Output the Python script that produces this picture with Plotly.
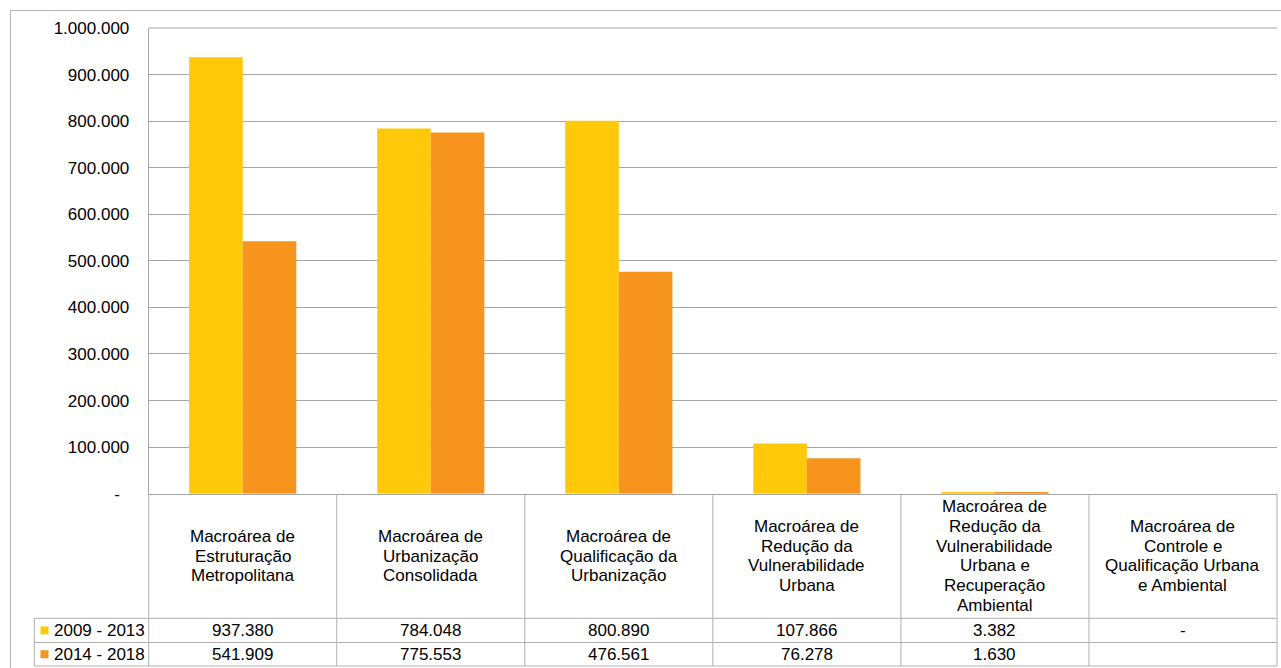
import plotly.graph_objects as go

# ---- data ----
categories = [
    "Macroárea de Estruturação Metropolitana",
    "Macroárea de Urbanização Consolidada",
    "Macroárea de Qualificação da Urbanização",
    "Macroárea de Redução da Vulnerabilidade Urbana",
    "Macroárea de Redução da Vulnerabilidade Urbana e Recuperação Ambiental",
    "Macroárea de Controle e Qualificação Urbana e Ambiental",
]
category_lines = [
    ["Macroárea de", "Estruturação", "Metropolitana"],
    ["Macroárea de", "Urbanização", "Consolidada"],
    ["Macroárea de", "Qualificação da", "Urbanização"],
    ["Macroárea de", "Redução da", "Vulnerabilidade", "Urbana"],
    ["Macroárea de", "Redução da", "Vulnerabilidade", "Urbana e", "Recuperação", "Ambiental"],
    ["Macroárea de", "Controle e", "Qualificação Urbana", "e Ambiental"],
]
series_names = ["2009 - 2013", "2014 - 2018"]
values_2009_2013 = [937380, 784048, 800890, 107866, 3382, 0]
values_2014_2018 = [541909, 775553, 476561, 76278, 1630, None]
y_ticks = [0, 100000, 200000, 300000, 400000, 500000, 600000, 700000, 800000, 900000, 1000000]

colors = ["#FFC90A", "#F7941E"]
FONT = "Liberation Sans, Arial, sans-serif"
W, H = 1281, 668
GRID = "#A6A6A6"
TABLE = "#B0B0B0"


def fmt(v):
    if v is None:
        return ""
    if v == 0:
        return "-"
    return f"{v:,.0f}".replace(",", ".")


def px(x):
    return x / W


def py(y):
    return 1 - y / H


# layout geometry (pixels)
PL, PR, PT, PB = 148.7, 1277, 28, 493.7
ROW1, ROW2, ROW3 = 618.3, 642.5, 666
LEG_L = 34.3

fig = go.Figure()
all_series = [values_2009_2013, values_2014_2018]
for name, vals, c in zip(series_names, all_series, colors):
    fig.add_trace(go.Bar(
        x=categories, y=[v if v is not None else 0 for v in vals], name=name,
        marker=dict(color=c, line=dict(width=0)), showlegend=False,
    ))

shapes = []
ann = []
# outer chart border
shapes.append(dict(type="rect", xref="paper", yref="paper", x0=px(10.5), x1=px(1290), y0=py(10.5), y1=py(700),
                   line=dict(color="#B4B4B4", width=1), fillcolor="rgba(0,0,0,0)", layer="below"))
# plot area top border
shapes.append(dict(type="line", xref="paper", yref="paper", x0=px(PL), x1=px(PR), y0=py(PT), y1=py(PT),
                   line=dict(color=GRID, width=1)))
# table horizontal lines
for yy, x0 in [(ROW1, LEG_L), (ROW2, LEG_L), (ROW3, LEG_L)]:
    shapes.append(dict(type="line", xref="paper", yref="paper", x0=px(x0), x1=px(PR), y0=py(yy), y1=py(yy),
                       line=dict(color=TABLE, width=1)))
# table vertical lines
n = len(categories)
cw = (PR - PL) / n
for i in range(n + 1):
    xx = PL + i * cw
    shapes.append(dict(type="line", xref="paper", yref="paper", x0=px(xx), x1=px(xx), y0=py(PB), y1=py(ROW3),
                       line=dict(color=TABLE, width=1)))
shapes.append(dict(type="line", xref="paper", yref="paper", x0=px(LEG_L), x1=px(LEG_L), y0=py(ROW1), y1=py(ROW3),
                   line=dict(color=TABLE, width=1)))

# header text (category labels)
LINE_H = 19.8
HC = (PB + ROW1) / 2
for cat, lines in zip(categories, category_lines):
    k = len(lines)
    for j, t in enumerate(lines):
        yy = HC + (j - (k - 1) / 2) * LINE_H
        ann.append(dict(x=cat, xref="x", y=py(yy), yref="paper", text=t, showarrow=False,
                        font=dict(family=FONT, size=17, color="#000"), xanchor="center", yanchor="middle"))

# data rows
row_centers = [(ROW1 + ROW2) / 2, (ROW2 + ROW3) / 2]
for name, vals, c, rc in zip(series_names, all_series, colors, row_centers):
    shapes.append(dict(type="rect", xref="paper", yref="paper", x0=px(40.5), x1=px(48.5),
                       y0=py(rc - 4), y1=py(rc + 4), fillcolor=c, line=dict(width=0)))
    ann.append(dict(x=px(51.5), xref="paper", y=py(rc), yref="paper", text=name, showarrow=False,
                    font=dict(family=FONT, size=17, color="#000"), xanchor="left", yanchor="middle"))
    for cat, v in zip(categories, vals):
        ann.append(dict(x=cat, xref="x", y=py(rc), yref="paper", text=fmt(v), showarrow=False,
                        font=dict(family=FONT, size=17, color="#000"), xanchor="center", yanchor="middle"))

tick_text = [fmt(v) + ("&nbsp;&nbsp;" if v == 0 else "") for v in y_ticks]

fig.update_layout(
    width=W, height=H, margin=dict(l=0, r=0, t=0, b=0, pad=0, autoexpand=False),
    paper_bgcolor="white", plot_bgcolor="white",
    barmode="group", bargap=0.43, bargroupgap=0,
    font=dict(family=FONT, size=17, color="#000"),
    xaxis=dict(domain=[px(PL), px(PR)], showticklabels=False, showgrid=False, zeroline=False,
               showline=True, linecolor=GRID, linewidth=1, ticks="", automargin=False),
    yaxis=dict(domain=[py(PB), py(PT)], range=[0, 1000000], tickvals=y_ticks,
               ticktext=tick_text, showgrid=True, gridcolor=GRID, gridwidth=1,
               zeroline=False, showline=True, linecolor=GRID, linewidth=1, ticks="", automargin=False,
               ticklabelstandoff=15, tickfont=dict(family=FONT, size=17, color="#000")),
    shapes=shapes, annotations=ann,
)

fig.write_html("out.html", config={"displayModeBar": False},
               post_script="document.body.style.margin='0';")
